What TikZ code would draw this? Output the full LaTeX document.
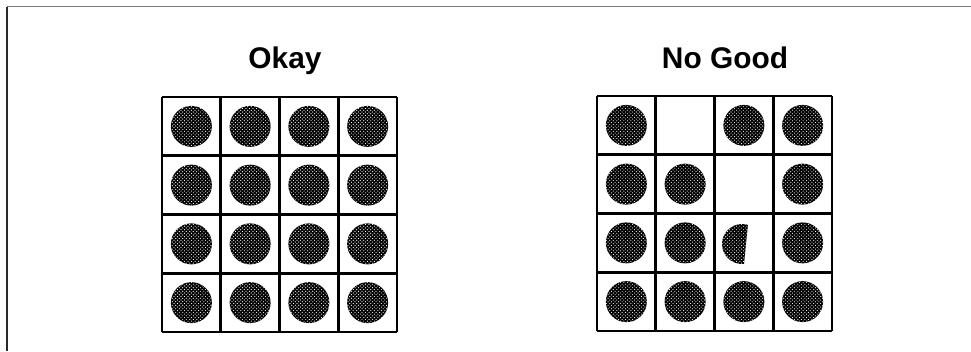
\documentclass[tikz,border=0pt]{standalone}
\usepackage{fontspec}
\setmainfont{Liberation Sans}
\usepackage{tikz}
\usetikzlibrary{patterns}
\definecolor{FrameGray}{HTML}{7A7A7A}
\definecolor{FrameDark}{HTML}{2A2A2A}

\begin{document}
\begin{tikzpicture}[x=0.03cm, y=-0.03cm,
    gridline/.style={line width=2.4pt, black},
    dotfill/.style={fill=black},
    dotgrain/.style={pattern=crosshatch dots, pattern color=white},
    title/.style={font=\bfseries\fontsize{25.5}{30}\selectfont, inner sep=0pt, anchor=base}]
    \useasboundingbox (0,0) rectangle (971,351);

    % Frame (top and left edges only)
    \draw[line width=1.2pt, FrameGray] (7,6.5) -- (971,6.5);
    \draw[line width=1.2pt, FrameDark] (7,6.5) -- (7,351);

    % Titles
    \node[title] (okay) at (285,68) {Okay};
    \node[title] (nogood) at (725,68) {No Good};

    % Left grid: all sixteen dots
    \foreach \c in {0,...,3}
      \foreach \r in {0,...,3} {
        \fill[dotfill] ({162+58.75*(\c+0.5)},{97+58.75*(\r+0.5)}) circle (0.615cm);
        \fill[dotgrain] ({162+58.75*(\c+0.5)},{97+58.75*(\r+0.5)}) circle (0.615cm);
      }
    \foreach \i in {0,...,4} {
      \draw[gridline] ({162+58.75*\i},97) -- ({162+58.75*\i},332);
      \draw[gridline] (162,{97+58.75*\i}) -- (397,{97+58.75*\i});
    }

    % Right grid: dots with two missing and one cut
    \foreach \c/\r in {0/0, 2/0, 3/0, 0/1, 1/1, 3/1, 0/2, 1/2, 3/2, 0/3, 1/3, 2/3, 3/3} {
      \fill[dotfill] ({597+58.75*(\c+0.5)},{96+58.75*(\r+0.5)}) circle (0.615cm);
      \fill[dotgrain] ({597+58.75*(\c+0.5)},{96+58.75*(\r+0.5)}) circle (0.615cm);
    }
    \begin{scope}
      \clip (700,200) -- (750.4,200) -- (741.4,290) -- (700,290) -- cycle;
      \fill[dotfill] (742,244) circle (0.6cm);
      \fill[dotgrain] (742,244) circle (0.6cm);
    \end{scope}
    \foreach \i in {0,...,4} {
      \draw[gridline] ({597+58.75*\i},96) -- ({597+58.75*\i},331);
      \draw[gridline] (597,{96+58.75*\i}) -- (832,{96+58.75*\i});
    }
\end{tikzpicture}
\end{document}
